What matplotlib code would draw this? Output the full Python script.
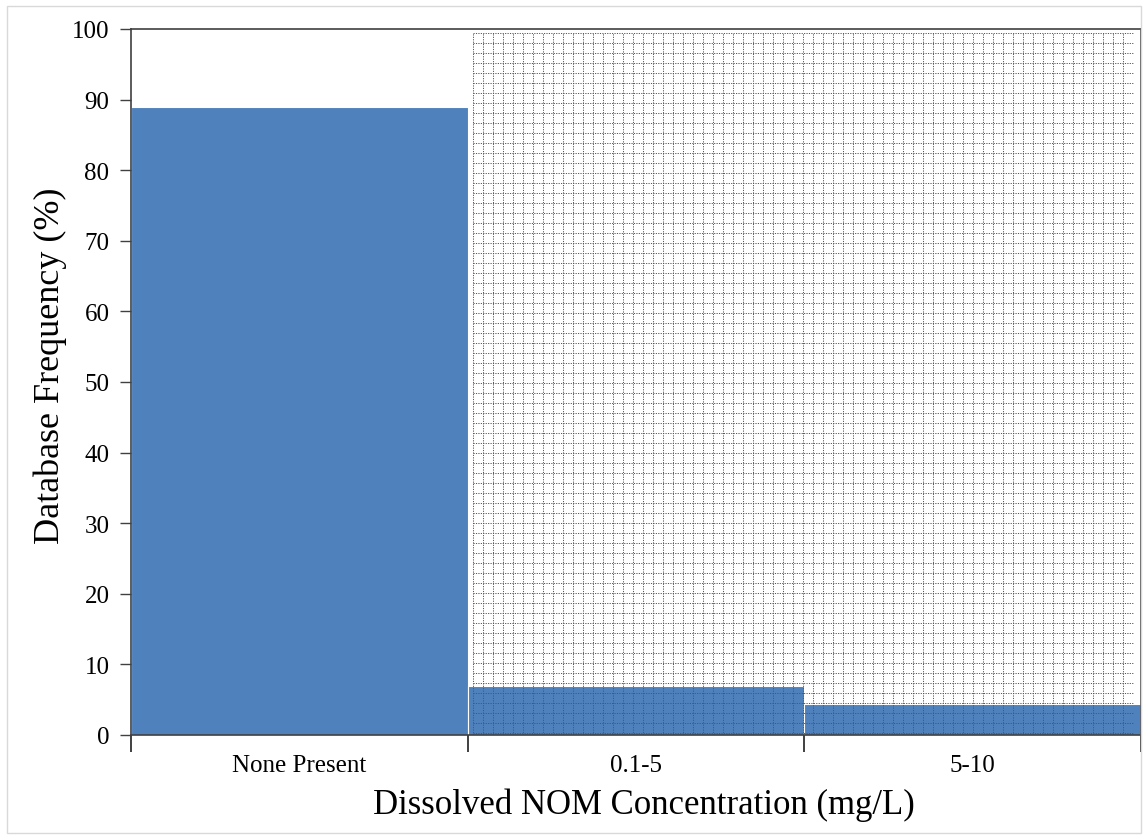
import numpy as np
import matplotlib
matplotlib.use("Agg")
import matplotlib.pyplot as plt
from matplotlib.patches import Rectangle

categories = ["None Present", "0.1-5", "5-10"]
frequency = [89.0, 6.9, 4.4]
y_ticks = [0, 10, 20, 30, 40, 50, 60, 70, 80, 90, 100]

plt.rcParams["font.family"] = ["Liberation Serif", "DejaVu Serif"]

fig = plt.figure(figsize=(11.48, 8.37), dpi=100)
ax = fig.add_axes([131 / 1148, 1 - 736 / 837, (1141 - 131) / 1148, (736 - 30) / 837])

x = np.arange(len(categories))
ax.bar(x, frequency, width=1.0, color="#4F81BD", edgecolor="white", linewidth=0.8, zorder=1)

ax.set_xlim(-0.5, len(categories) - 0.5)
ax.set_ylim(0, 100)

# dotted grid overlay across the two measured-concentration classes
x0, x1 = 0.515, 2.475
y0, y1 = 0.0, 99.5
dx = 3.0 / 1010 * 10
dy = 100.0 / 706 * 10
for xv in np.arange(x0, x1, dx):
    ax.plot([xv, xv], [y0, y1], color="#555555", lw=0.7, ls=(0, (1.2, 1.3)), zorder=2)
for yv in np.arange(y1, y0, -dy):
    ax.plot([x0, x1], [yv, yv], color="#555555", lw=0.7, ls=(0, (1.2, 1.3)), zorder=2)

for s in ax.spines.values():
    s.set_color("#404040")
    s.set_linewidth(1.2)

ax.set_yticks(y_ticks)
ax.tick_params(axis="y", direction="out", length=8, width=1.0, color="#404040", labelsize=18, pad=7.5)

# category boundaries carry the ticks, labels sit at category centres
ax.set_xticks(np.arange(-0.5, len(categories)), minor=False)
ax.set_xticklabels([])
ax.set_xticks(x, minor=True)
ax.set_xticklabels(categories, minor=True)
ax.tick_params(axis="x", which="major", direction="out", length=12, width=1.2, color="#202020")
ax.tick_params(axis="x", which="minor", length=0, labelsize=18, pad=14)

ax.set_xlabel("Dissolved NOM Concentration (mg/L)", fontsize=25, va="center", ha="center")
ax.set_ylabel("Database Frequency (%)", fontsize=26, va="center", ha="center")
ax.xaxis.set_label_coords(0.508, -0.098)
ax.yaxis.set_label_coords(-0.080, 0.524)

# light outer frame
fig.patches.append(Rectangle((7 / 1148, 3 / 837), 1 - 14 / 1148, 1 - 10 / 837,
                             transform=fig.transFigure, fill=False,
                             edgecolor="#d9d9d9", linewidth=1.0))

fig.savefig("out.png", dpi=100)
